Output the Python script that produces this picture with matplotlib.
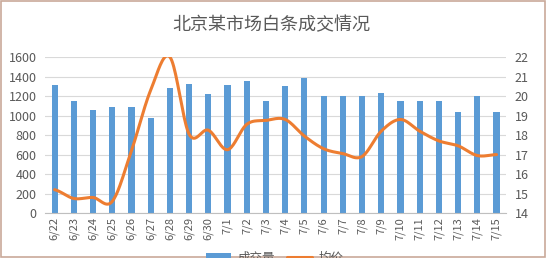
import matplotlib
matplotlib.use("Agg")
import matplotlib.pyplot as plt
import numpy as np

plt.rcParams["font.family"] = ["Noto Sans CJK SC", "DejaVu Sans"]

dates = ["6/22", "6/23", "6/24", "6/25", "6/26", "6/27", "6/28", "6/29", "6/30",
         "7/1", "7/2", "7/3", "7/4", "7/5", "7/6", "7/7", "7/8", "7/9", "7/10",
         "7/11", "7/12", "7/13", "7/14", "7/15"]
volume = [1310, 1150, 1060, 1090, 1090, 980, 1280, 1320, 1220,
          1310, 1350, 1150, 1300, 1390, 1200, 1200, 1200, 1230, 1150,
          1150, 1150, 1040, 1200, 1040]
price = [15.2, 14.75, 14.8, 14.6, 17.2, 20.3, 22.0, 18.05, 18.25,
         17.25, 18.55, 18.75, 18.8, 17.95, 17.3, 17.05, 16.9, 18.2, 18.8,
         18.2, 17.7, 17.45, 16.95, 17.0]

BLUE = "#5B9BD5"
ORANGE = "#ED7D31"
GRAY = "#595959"


def smooth(x, y, steps=20):
    # Catmull-Rom style curve, like Excel's smoothed line
    x = np.asarray(x, float)
    y = np.asarray(y, float)
    px = np.concatenate([[2 * x[0] - x[1]], x, [2 * x[-1] - x[-2]]])
    py = np.concatenate([[y[0]], y, [y[-1]]])
    xs, ys = [], []
    t = np.linspace(0, 1, steps, endpoint=False)
    for i in range(1, len(px) - 2):
        p0, p1, p2, p3 = py[i - 1], py[i], py[i + 1], py[i + 2]
        q0, q1, q2, q3 = px[i - 1], px[i], px[i + 1], px[i + 2]
        for arr, a0, a1, a2, a3 in ((ys, p0, p1, p2, p3), (xs, q0, q1, q2, q3)):
            arr.extend(0.5 * (2 * a1 + (-a0 + a2) * t
                              + (2 * a0 - 5 * a1 + 4 * a2 - a3) * t ** 2
                              + (-a0 + 3 * a1 - 3 * a2 + a3) * t ** 3))
    xs.append(x[-1])
    ys.append(y[-1])
    return np.array(xs), np.array(ys)


fig = plt.figure(figsize=(5.46, 2.58), dpi=100)
ax = fig.add_axes([0.0824, 0.174, 0.8446, 0.605])
ax2 = ax.twinx()

pos = np.arange(len(dates))
ax.bar(pos, volume, width=0.32, color=BLUE, label="成交量", zorder=2)
sx, sy = smooth(pos, price)
ax2.plot(sx, sy, color=ORANGE, lw=2.2, label="均价", solid_capstyle="round")

ax.set_xlim(-0.5, len(dates) - 0.5)
ax.set_ylim(0, 1600)
ax.set_yticks(np.arange(0, 1601, 200))
ax2.set_ylim(14, 22)
ax2.set_yticks(np.arange(14, 23, 1))
ax.set_xticks(pos)
ax.set_xticklabels(dates, rotation=90, fontsize=8, color=GRAY)

ax.grid(axis="y", color="#D9D9D9", lw=0.8, zorder=0)
ax.set_axisbelow(True)
for a in (ax, ax2):
    for s in a.spines.values():
        s.set_visible(False)
    a.tick_params(length=0, labelsize=9, colors=GRAY)
ax.spines["bottom"].set_visible(True)
ax.spines["bottom"].set_color("#BFBFBF")
ax.tick_params(axis="x", pad=3, labelsize=8)
ax.tick_params(axis="y", pad=6)
ax2.tick_params(axis="y", pad=6)

fig.text(0.497, 0.903, "北京某市场白条成交情况", ha="center", va="center",
         fontsize=13, color=GRAY)

h1, l1 = ax.get_legend_handles_labels()
h2, l2 = ax2.get_legend_handles_labels()
fig.legend(h1 + h2, l1 + l2, loc="center", bbox_to_anchor=(0.503, 0.0),
           ncol=2, frameon=False, fontsize=9, labelcolor=GRAY,
           handlelength=2.0, handletextpad=0.5, columnspacing=1.0)

border = plt.Rectangle((0.002, 0.002), 0.996, 0.996, transform=fig.transFigure,
                       fill=False, ec="#C9A99A", lw=1.2)
fig.patches.append(border)

fig.savefig("out.png", dpi=100)
